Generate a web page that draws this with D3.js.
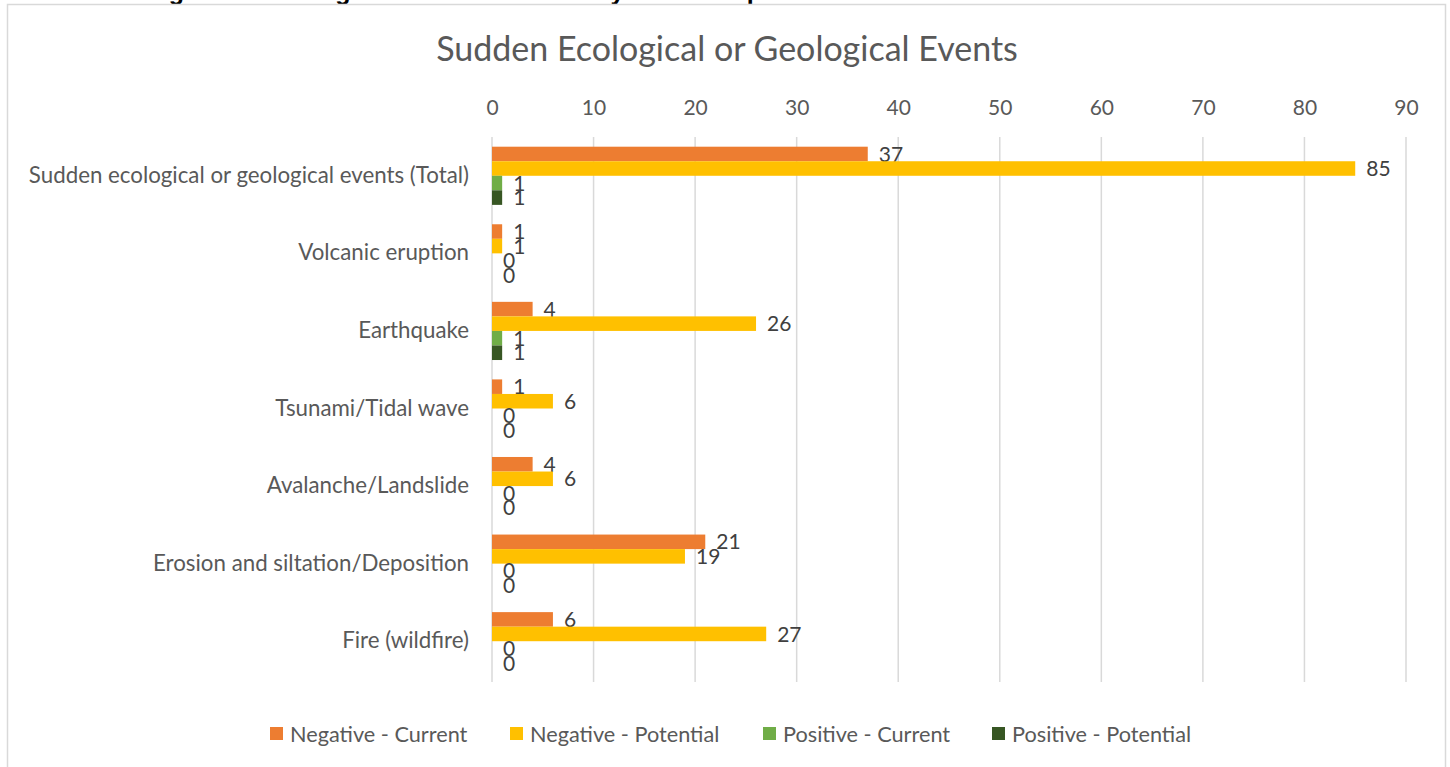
<!DOCTYPE html>
<html lang="en">
<meta charset="utf-8">
<title>Sudden Ecological or Geological Events</title>
<style>
  body { margin: 0; background: #fff; }
  svg { display: block; }
</style>
<body>
<script src="https://d3js.org/d3.v7.min.js"></script>
<script>
  // chart data
  var categories = [
    "Sudden ecological or geological events (Total)",
    "Volcanic eruption",
    "Earthquake",
    "Tsunami/Tidal wave",
    "Avalanche/Landslide",
    "Erosion and siltation/Deposition",
    "Fire (wildfire)"
  ];
  var seriesNames = ["Negative - Current", "Negative - Potential", "Positive - Current", "Positive - Potential"];
  var negativeCurrent = [37, 1, 4, 1, 4, 21, 6];
  var negativePotential = [85, 1, 26, 6, 6, 19, 27];
  var positiveCurrent = [1, 0, 1, 0, 0, 0, 0];
  var positivePotential = [1, 0, 1, 0, 0, 0, 0];
  var xTicks = [0, 10, 20, 30, 40, 50, 60, 70, 80, 90];

  var colors = ["#ED7D31", "#FFC000", "#70AD47", "#375623"];
  var seriesValues = [negativeCurrent, negativePotential, positiveCurrent, positivePotential];

  var width = 1450, height = 767;
  var font = "Lato, 'Open Sans', sans-serif";

  var svg = d3.select("body").append("svg")
    .attr("width", width)
    .attr("height", height);

  // heading above the chart box, mostly cut off
  svg.append("text")
    .attr("x", 2)
    .attr("y", 0)
    .attr("font-family", "'Liberation Sans', Arial, sans-serif")
    .attr("font-weight", "bold")
    .attr("font-size", 25)
    .attr("fill", "#000")
    .text("Sudden Ecological or Geological Events: Secondary Nature Impact");

  // chart border
  svg.append("rect")
    .attr("x", 7.5)
    .attr("y", 4.5)
    .attr("width", 1438)
    .attr("height", 780)
    .attr("fill", "#fff")
    .attr("stroke", "#D9D9D9")
    .attr("stroke-width", 1.5);

  // title
  svg.append("text")
    .attr("x", 727)
    .attr("y", 61)
    .attr("text-anchor", "middle")
    .attr("font-family", font)
    .attr("font-size", 34)
    .attr("fill", "#595959")
    .text("Sudden Ecological or Geological Events");

  var plot = { left: 492, right: 1406, top: 137, bottom: 680 };

  var x = d3.scaleLinear().domain([0, 90]).range([plot.left, plot.right]);
  var y = d3.scaleBand().domain(categories).range([plot.top, plot.bottom]).paddingInner(0.25).paddingOuter(0.125);
  var ySub = d3.scaleBand().domain(seriesNames).range([0, y.bandwidth()]);

  // grid lines
  svg.append("g")
    .selectAll("line")
    .data(xTicks)
    .join("line")
    .attr("x1", function(d) { return x(d); })
    .attr("x2", function(d) { return x(d); })
    .attr("y1", plot.top)
    .attr("y2", plot.bottom + 2)
    .attr("stroke", "#D9D9D9")
    .attr("stroke-width", 1.5);

  // top axis
  var xAxis = svg.append("g")
    .attr("transform", "translate(0," + 115 + ")")
    .call(d3.axisTop(x).tickValues(xTicks).tickSize(0).tickPadding(0));
  xAxis.select(".domain").remove();
  xAxis.selectAll("text")
    .attr("font-family", font)
    .attr("font-size", 21)
    .attr("fill", "#595959");

  // left axis labels
  var yAxis = svg.append("g")
    .attr("transform", "translate(" + 469 + ",0)")
    .call(d3.axisLeft(y).tickSize(0).tickPadding(0));
  yAxis.select(".domain").remove();
  yAxis.selectAll("text")
    .attr("font-family", font)
    .attr("font-size", 22.3)
    .attr("fill", "#595959");

  // bars
  var groups = svg.append("g")
    .selectAll("g")
    .data(categories)
    .join("g")
    .attr("transform", function(d) { return "translate(0," + y(d) + ")"; });

  seriesNames.forEach(function(name, s) {
    groups.append("rect")
      .attr("x", x(0))
      .attr("y", ySub(name))
      .attr("width", function(d, i) { return x(seriesValues[s][i]) - x(0); })
      .attr("height", ySub.bandwidth())
      .attr("fill", colors[s]);

    groups.append("text")
      .attr("x", function(d, i) { return x(seriesValues[s][i]) + 11; })
      .attr("y", ySub(name) + ySub.bandwidth() / 2)
      .attr("dy", "0.36em")
      .attr("font-family", font)
      .attr("font-size", 21)
      .attr("fill", "#404040")
      .text(function(d, i) { return seriesValues[s][i]; });
  });

  // legend
  var legendX = [270, 510, 763, 992];
  var legend = svg.append("g")
    .selectAll("g")
    .data(seriesNames)
    .join("g")
    .attr("transform", function(d, i) { return "translate(" + legendX[i] + ",727)"; });
  legend.append("rect")
    .attr("width", 13)
    .attr("height", 13)
    .attr("fill", function(d, i) { return colors[i]; });
  legend.append("text")
    .attr("x", 20)
    .attr("y", 7)
    .attr("dy", "0.36em")
    .attr("font-family", font)
    .attr("font-size", 21.7)
    .attr("fill", "#595959")
    .text(function(d) { return d; });
</script>
</body>
